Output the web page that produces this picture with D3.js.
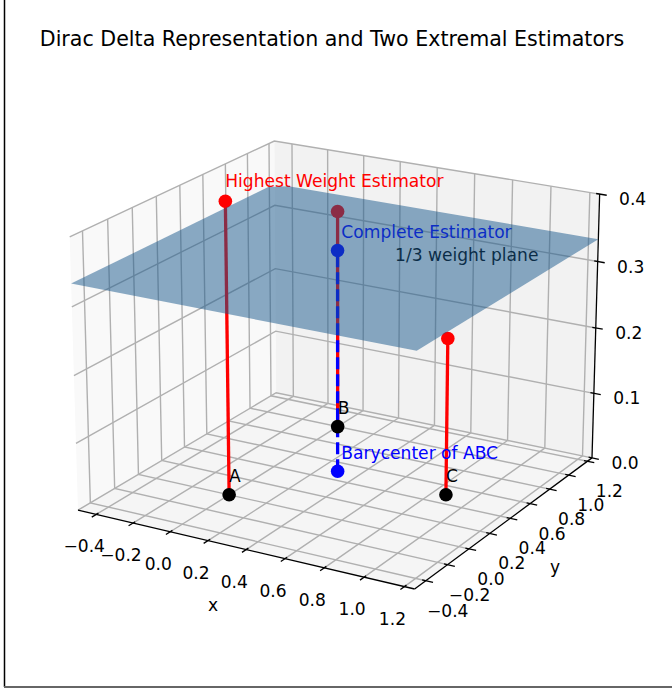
<!DOCTYPE html>
<html>
<head>
<meta charset="utf-8">
<script src="https://cdn.jsdelivr.net/npm/d3@7"></script>
<style>
  body { margin: 0; background: #fff; }
  text { font-family: "DejaVu Sans", sans-serif; }
</style>
</head>
<body>
<svg id="chart" width="672" height="691"></svg>
<script>
const xLim = [-0.5, 1.25];
const yLim = [-0.5, 1.25];
const zLim = [0, 0.4];
const xTicks = [-0.4, -0.2, 0.0, 0.2, 0.4, 0.6, 0.8, 1.0, 1.2];
const yTicks = [-0.4, -0.2, 0.0, 0.2, 0.4, 0.6, 0.8, 1.0, 1.2];
const zTicks = [0.0, 0.1, 0.2, 0.3, 0.4];

// triangle corners and the two estimators
const cornerNames = ["A", "B", "C"];
const cornerX = [0, 0, 0.866];
const cornerY = [0, 1, 0.5];
const highestZ = [0.433, 0.335, 0.234];
const baryX = 0.289;
const baryY = 0.5;
const baryZ = 1 / 3;
const planeZ = 1 / 3;

const titleText = "Dirac Delta Representation and Two Extremal Estimators";

const svg = d3.select("#chart");
const fmt = d3.format(".1f");
const tickLabel = v => fmt(v).replace("-", "\u2212");

// same camera matplotlib uses for its 3d axes
const elev = 20 * Math.PI / 180, azim = -60 * Math.PI / 180, dist = 10;
const boxX = 1.1905, boxY = 1.1905, boxZ = 0.8929;
const wx = d3.scaleLinear().domain(xLim).range([0, boxX]);
const wy = d3.scaleLinear().domain(yLim).range([0, boxY]);
const wz = d3.scaleLinear().domain(zLim).range([0, boxZ]);

const view = [Math.cos(elev) * Math.cos(azim), Math.cos(elev) * Math.sin(azim), Math.sin(elev)];
const eye = [boxX / 2 + dist * view[0], boxY / 2 + dist * view[1], boxZ / 2 + dist * view[2]];
const uLen = Math.hypot(view[0], view[1]);
const u = [-view[1] / uLen, view[0] / uLen, 0];
const v = [view[1] * u[2] - view[2] * u[1], view[2] * u[0] - view[0] * u[2], view[0] * u[1] - view[1] * u[0]];

function camera(x, y, z) {
    const p = [wx(x) - eye[0], wy(y) - eye[1], wz(z) - eye[2]];
    const depth = -(p[0] * view[0] + p[1] * view[1] + p[2] * view[2]);
    return [d3.sum(p, (d, i) => d * u[i]) / depth, d3.sum(p, (d, i) => d * v[i]) / depth];
}

// screen scales pinned on the corners of the box
const sx = d3.scaleLinear()
    .domain([camera(xLim[0], yLim[0], 0)[0], camera(xLim[1], yLim[1], 0)[0]])
    .range([78, 592]);
const sy = d3.scaleLinear()
    .domain([camera(xLim[1], yLim[0], 0)[1], camera(xLim[0], yLim[1], zLim[1])[1]])
    .range([589, 141]);

function project(x, y, z) {
    const c = camera(x, y, z);
    return [sx(c[0]), sy(c[1])];
}
const pathOf = pts => "M" + pts.map(p => project(...p).join(",")).join("L");

// outer frame
svg.append("path").attr("d", "M4.5,0V687").attr("fill", "none").attr("stroke", "#000").attr("stroke-width", 1.5);
svg.append("path").attr("d", "M4,687H672").attr("fill", "none").attr("stroke", "#666").attr("stroke-width", 2);

svg.append("text").attr("x", 332).attr("y", 46).attr("text-anchor", "middle")
    .attr("font-size", 20.6).attr("fill", "#000").text(titleText);

// panes
const [x0, x1] = xLim, [y0, y1] = yLim, [z0, z1] = zLim;
const panes = [
    {fill: "#f9f9f9", pts: [[x0, y0, z0], [x0, y1, z0], [x0, y1, z1], [x0, y0, z1]]},
    {fill: "#f2f2f2", pts: [[x0, y1, z0], [x1, y1, z0], [x1, y1, z1], [x0, y1, z1]]},
    {fill: "#f5f5f5", pts: [[x0, y0, z0], [x1, y0, z0], [x1, y1, z0], [x0, y1, z0]]}
];
svg.append("g").selectAll("path").data(panes).join("path")
    .attr("d", d => pathOf(d.pts) + "Z").attr("fill", d => d.fill);

// grid
const gridLines = [
    ...xTicks.map(t => [[t, y0, z0], [t, y1, z0], [t, y1, z1]]),
    ...yTicks.map(t => [[x1, t, z0], [x0, t, z0], [x0, t, z1]]),
    ...zTicks.map(t => [[x0, y0, t], [x0, y1, t], [x1, y1, t]])
];
svg.append("g").selectAll("path").data(gridLines).join("path")
    .attr("d", pathOf).attr("fill", "none").attr("stroke", "#b0b0b0").attr("stroke-width", 1.4);

// axis lines
const axisLines = [
    [[x0, y0, z0], [x1, y0, z0]],
    [[x1, y0, z0], [x1, y1, z0]],
    [[x1, y1, z0], [x1, y1, z1]]
];
svg.append("g").selectAll("path").data(axisLines).join("path")
    .attr("d", pathOf).attr("fill", "none").attr("stroke", "#000").attr("stroke-width", 1.3);

// tick marks
const tickMarks = [
    ...xTicks.map(t => [[t, y0 + 0.018, z0], [t, y0 - 0.036, z0]]),
    ...yTicks.map(t => [[x1 - 0.018, t, z0], [x1 + 0.036, t, z0]]),
    ...zTicks.map(t => [[x1 - 0.018, y1, t], [x1 + 0.036, y1, t]])
];
svg.append("g").selectAll("path").data(tickMarks).join("path")
    .attr("d", pathOf).attr("fill", "none").attr("stroke", "#000").attr("stroke-width", 1.3);

// tick labels sit a fixed distance from their axis
const tickText = (ticks, at, dx, dy) => svg.append("g").selectAll("text").data(ticks).join("text")
    .attr("x", d => project(...at(d))[0] + dx)
    .attr("y", d => project(...at(d))[1] + dy)
    .attr("text-anchor", "middle").attr("font-size", 17.1).attr("fill", "#000")
    .text(tickLabel);
tickText(xTicks, t => [t, y0, z0], -12, 38);
tickText(yTicks, t => [x1, t, z0], 22, 36);
tickText(zTicks, t => [x1, y1, t], 33, 11);

svg.append("text").attr("x", 213).attr("y", 611).attr("text-anchor", "middle")
    .attr("font-size", 17.1).attr("fill", "#000").text("x");
svg.append("text").attr("x", 555).attr("y", 573).attr("text-anchor", "middle")
    .attr("font-size", 17.1).attr("fill", "#000").text("y");

// red stems, dashed blue stem on top
const stems = cornerNames.map((n, i) => [[cornerX[i], cornerY[i], 0], [cornerX[i], cornerY[i], highestZ[i]]]);
svg.append("g").selectAll("path").data(stems).join("path")
    .attr("d", pathOf).attr("fill", "none").attr("stroke", "#f00").attr("stroke-width", 3.3);
svg.append("path").attr("d", pathOf([[baryX, baryY, 0], [baryX, baryY, baryZ]]))
    .attr("fill", "none").attr("stroke", "#00f").attr("stroke-width", 3.3).attr("stroke-dasharray", "12,5");

// labels
const labelOf = (txt, pos, color) => svg.append("text")
    .attr("x", project(...pos)[0]).attr("y", project(...pos)[1])
    .attr("font-size", 17.1).attr("fill", color).text(txt);
cornerNames.forEach((n, i) => labelOf(n, [cornerX[i], cornerY[i], 0.02], "#000"));
labelOf("Highest Weight Estimator", [cornerX[0], cornerY[0], highestZ[0] + 0.02], "#f00");
labelOf("Complete Estimator", [baryX + 0.02, baryY, baryZ + 0.02], "#00f");
labelOf("Barycenter of ABC", [baryX + 0.02, baryY, 0.02], "#00f");
labelOf("1/3 weight plane", [0.59, 0.5, planeZ], "#000");

// markers
const dot = (pos, color) => svg.append("circle")
    .attr("cx", project(...pos)[0]).attr("cy", project(...pos)[1]).attr("r", 6.8).attr("fill", color);
cornerNames.forEach((n, i) => dot([cornerX[i], cornerY[i], highestZ[i]], "#f00"));
cornerNames.forEach((n, i) => dot([cornerX[i], cornerY[i], 0], "#000"));
dot([baryX, baryY, baryZ], "#00f");
dot([baryX, baryY, 0], "#00f");

// the plane goes over everything, its far corner is slightly cut in the reference
svg.append("path")
    .attr("d", pathOf([[x0, y0, planeZ], [x1, y0, planeZ], [x1, y1, planeZ], [x0 + 0.08, y1, planeZ], [x0, y1 - 0.06, planeZ]]) + "Z")
    .attr("fill", "rgb(24,88,140)").attr("fill-opacity", 0.5);
</script>
</body>
</html>
